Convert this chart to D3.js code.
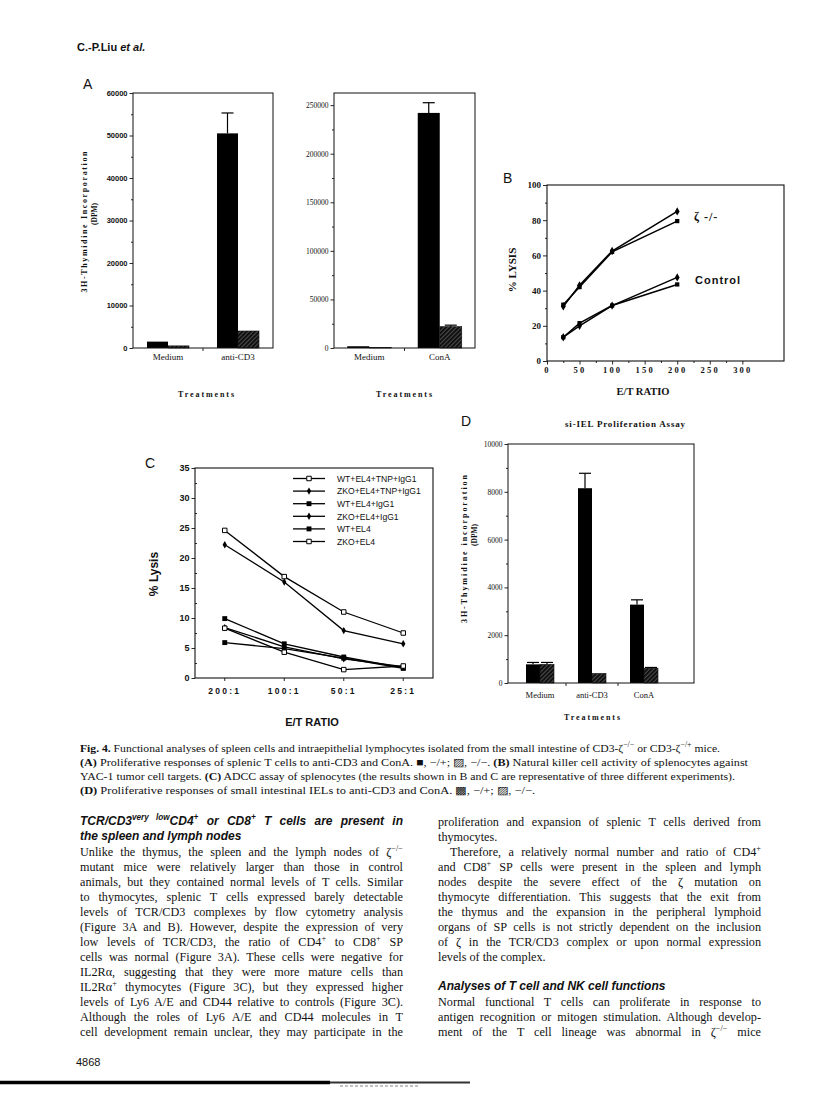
<!DOCTYPE html>
<html><head><meta charset="utf-8">
<script src="https://cdn.jsdelivr.net/npm/d3@7"></script>
<style>
body{margin:0;background:#fff}
svg{display:block}
</style></head><body>
<svg id="page" width="816" height="1102"></svg>
<script>
// ---------------- DATA ----------------
// Panel A (left): proliferation of splenic T cells, anti-CD3
const aCats = ["Medium", "anti-CD3"];
const aHet = [1500, 50500];          // -/+ (black)
const aHetErr = [null, 55300];
const aKO = [500, 4000];             // -/- (hatched)
const aKOErr = [null, null];
const aTicks = [0, 10000, 20000, 30000, 40000, 50000, 60000];
// Panel A (right): ConA
const a2Cats = ["Medium", "ConA"];
const a2Het = [1800, 242000];
const a2HetErr = [null, 252500];
const a2KO = [500, 22000];
const a2KOErr = [null, 23500];
const a2Ticks = [0, 50000, 100000, 150000, 200000, 250000];
// Panel B: NK activity (% lysis vs E/T ratio)
const bRatios = [25, 50, 100, 200];
const bKOdia = [31, 43, 62.5, 85];
const bKOsq = [32, 42, 62, 79.5];
const bCtlDia = [13.5, 20, 31.5, 47.5];
const bCtlSq = [13.5, 21.5, 31.5, 43.5];
const bXTicks = [0, 50, 100, 150, 200, 250, 300];
const bYTicks = [0, 20, 40, 60, 80, 100];
// Panel C: ADCC assay
const cRatios = ["200:1", "100:1", "50:1", "25:1"];
const cNames = ["WT+EL4+TNP+IgG1", "ZKO+EL4+TNP+IgG1", "WT+EL4+IgG1", "ZKO+EL4+IgG1", "WT+EL4", "ZKO+EL4"];
const cMarkers = ["open", "diamond", "square", "diamond", "square", "open"];
const cWtTnp = [24.6, 16.9, 11.0, 7.5];
const cZkoTnp = [22.2, 16.0, 7.9, 5.7];
const cWtIgg = [9.9, 5.7, 3.5, 1.7];
const cZkoIgg = [8.4, 5.2, 3.2, 1.9];
const cWt = [5.9, 4.9, 3.3, 1.6];
const cZko = [8.3, 4.3, 1.4, 2.0];
const cYTicks = [0, 5, 10, 15, 20, 25, 30, 35];
// Panel D: si-IEL proliferation
const dCats = ["Medium", "anti-CD3", "ConA"];
const dHet = [780, 8150, 3280];
const dHetErr = [860, 8775, 3480];
const dKO = [780, 400, 620];
const dKOErr = [860, null, 650];
const dTicks = [0, 2000, 4000, 6000, 8000, 10000];

// ---------------- TEXT ----------------
const captionLines = [
  "**Fig. 4.** Functional analyses of spleen cells and intraepithelial lymphocytes isolated from the small intestine of CD3-ζ^{−/−} or CD3-ζ^{−/+} mice.",
  "**(A)** Proliferative responses of splenic T cells to anti-CD3 and ConA. ■, −/+; ▨, −/−. **(B)** Natural killer cell activity of splenocytes against",
  "YAC-1 tumor cell targets. **(C)** ADCC assay of splenocytes (the results shown in B and C are representative of three different experiments).",
  "**(D)** Proliferative responses of small intestinal IELs to anti-CD3 and ConA. ▩, −/+; ▨, −/−."
];
const captionWidths = [640, 668, 655, 455];
const leftHead = ["TCR/CD3^{very low}CD4^{+} or CD8^{+} T cells are present in", "the spleen and lymph nodes"];
const leftBody = [
  "Unlike the thymus, the spleen and the lymph nodes of ζ^{−/−}",
  "mutant mice were relatively larger than those in control",
  "animals, but they contained normal levels of T cells. Similar",
  "to thymocytes, splenic T cells expressed barely detectable",
  "levels of TCR/CD3 complexes by flow cytometry analysis",
  "(Figure 3A and B). However, despite the expression of very",
  "low levels of TCR/CD3, the ratio of CD4^{+} to CD8^{+} SP",
  "cells was normal (Figure 3A). These cells were negative for",
  "IL2Rα, suggesting that they were more mature cells than",
  "IL2Rα^{+} thymocytes (Figure 3C), but they expressed higher",
  "levels of Ly6 A/E and CD44 relative to controls (Figure 3C).",
  "Although the roles of Ly6 A/E and CD44 molecules in T",
  "cell development remain unclear, they may participate in the"
];
const rightBody1 = [
  "proliferation and expansion of splenic T cells derived from",
  "thymocytes.",
  "Therefore, a relatively normal number and ratio of CD4^{+}",
  "and CD8^{+} SP cells were present in the spleen and lymph",
  "nodes despite the severe effect of the ζ mutation on",
  "thymocyte differentiation. This suggests that the exit from",
  "the thymus and the expansion in the peripheral lymphoid",
  "organs of SP cells is not strictly dependent on the inclusion",
  "of ζ in the TCR/CD3 complex or upon normal expression",
  "levels of the complex."
];
const rightHead = "Analyses of T cell and NK cell functions";
const rightBody2 = [
  "Normal functional T cells can proliferate in response to",
  "antigen recognition or mitogen stimulation. Although develop-",
  "ment of the T cell lineage was abnormal in ζ^{−/−} mice"
];

// ---------------- DRAWING ----------------
const SERIF = "'Liberation Serif','Times New Roman',serif";
const SANS = "'Liberation Sans',Arial,Helvetica,sans-serif";
const svg = d3.select("#page");
svg.append("rect").attr("width", 816).attr("height", 1102).attr("fill", "#fff");

const defs = svg.append("defs");
const pat = defs.append("pattern").attr("id", "hatch").attr("patternUnits", "userSpaceOnUse")
  .attr("width", 3).attr("height", 3).attr("patternTransform", "rotate(45)");
pat.append("rect").attr("width", 3).attr("height", 3).attr("fill", "#4a4a4a");
pat.append("rect").attr("width", 1.8).attr("height", 3).attr("fill", "#0a0a0a");

function richText(parent, x, y, str, o) {
  const t = parent.append("text").attr("x", x).attr("y", y)
    .attr("font-family", o.family).attr("font-size", o.size).attr("fill", "#111");
  if (o.weight) t.attr("font-weight", o.weight);
  if (o.style) t.attr("font-style", o.style);
  const parts = str.split(/(\^\{[^}]*\}|\*\*[^*]+\*\*)/).filter(s => s.length);
  let shifted = false;
  const up = o.size * 0.4;
  parts.forEach(p => {
    if (p.startsWith("^{")) {
      t.append("tspan").attr("dy", shifted ? 0 : -up).attr("font-size", o.size * 0.68).text(p.slice(2, -1));
      shifted = true;
    } else {
      const s = t.append("tspan");
      if (shifted) { s.attr("dy", up); shifted = false; }
      if (p.startsWith("**")) s.attr("font-weight", "bold").text(p.slice(2, -2));
      else s.text(p);
    }
  });
  if (o.justify) {
    const w = t.node().getComputedTextLength();
    const n = (t.text().match(/ /g) || []).length;
    if (n > 0) t.attr("word-spacing", (o.justify - w) / n);
  }
  if (o.fit) t.attr("textLength", o.fit).attr("lengthAdjust", "spacingAndGlyphs");
  return t;
}

function vText(x, y, str, o) {
  const t = svg.append("text").attr("transform", `translate(${x},${y}) rotate(-90)`)
    .attr("text-anchor", "middle").attr("dominant-baseline", "central")
    .attr("font-family", o.family).attr("font-size", o.size).attr("fill", "#111")
    .attr("font-weight", o.weight || "normal").text(str);
  if (o.len) t.attr("textLength", o.len).attr("lengthAdjust", "spacing");
  if (o.ls) t.attr("letter-spacing", o.ls);
  return t;
}

function label(x, y, str, o) {
  const t = svg.append("text").attr("x", x).attr("y", y).attr("text-anchor", o.anchor || "middle")
    .attr("font-family", o.family).attr("font-size", o.size).attr("fill", "#111")
    .attr("font-weight", o.weight || "normal").text(str);
  if (o.ls) t.attr("letter-spacing", o.ls);
  if (o.style) t.attr("font-style", o.style);
  if (o.len) t.attr("textLength", o.len).attr("lengthAdjust", "spacing");
  return t;
}

function styleAxis(g, o) {
  g.select(".domain").remove();
  g.attr("font-family", null).attr("font-size", null);
  g.selectAll("line").attr("stroke", "#111").attr("stroke-width", 0.9);
  g.selectAll("text").attr("font-family", o.family).attr("font-size", o.size)
    .attr("font-weight", o.weight || "normal").attr("fill", "#111");
  if (o.ls) g.selectAll("text").attr("letter-spacing", o.ls);
}

function midpoints(arr) { const m = []; for (let i = 0; i < arr.length - 1; i++) m.push((arr[i] + arr[i + 1]) / 2); return m; }

function barPanel(o) {
  const g = svg.append("g");
  const x = d3.scaleBand().domain(o.cats).range(o.xr);
  const y = d3.scaleLinear().domain([0, o.yMax]).range([o.f.y1, o.f.y0]);
  const bw = o.bw;
  const rows = o.cats.map((c, i) => ({ c, het: o.het[i], ko: o.ko[i], hetE: o.hetErr[i], koE: o.koErr[i] }));
  const cx = d => x(d.c) + x.bandwidth() / 2;
  g.selectAll(".het").data(rows).join("rect")
    .attr("x", d => cx(d) - bw).attr("width", bw)
    .attr("y", d => y(d.het)).attr("height", d => y(0) - y(d.het)).attr("fill", "#000");
  g.selectAll(".ko").data(rows).join("rect")
    .attr("x", d => cx(d)).attr("width", bw)
    .attr("y", d => y(d.ko)).attr("height", d => y(0) - y(d.ko))
    .attr("fill", "url(#hatch)").attr("stroke", "#111").attr("stroke-width", 0.6);
  const errs = [];
  rows.forEach(d => {
    if (d.hetE != null) errs.push({ x: cx(d) - bw / 2, v: d.het, e: d.hetE });
    if (d.koE != null) errs.push({ x: cx(d) + bw / 2, v: d.ko, e: d.koE });
  });
  g.selectAll(".ev").data(errs).join("line").attr("x1", d => d.x).attr("x2", d => d.x)
    .attr("y1", d => y(d.v)).attr("y2", d => y(d.e)).attr("stroke", "#000").attr("stroke-width", 1.2);
  g.selectAll(".ec").data(errs).join("line").attr("x1", d => d.x - o.cap).attr("x2", d => d.x + o.cap)
    .attr("y1", d => y(d.e)).attr("y2", d => y(d.e)).attr("stroke", "#000").attr("stroke-width", 1.2);
  // frame
  g.append("rect").attr("x", o.f.x0).attr("y", o.f.y0).attr("width", o.f.x1 - o.f.x0)
    .attr("height", o.f.y1 - o.f.y0).attr("fill", "none").attr("stroke", "#111").attr("stroke-width", 1);
  // y axis
  const ya = g.append("g").attr("transform", `translate(${o.f.x0},0)`)
    .call(d3.axisLeft(y).tickValues(o.ticks).tickSize(3.5).tickPadding(2).tickFormat(d3.format("d")));
  styleAxis(ya, o.tickFont);
  const ym = g.append("g").attr("transform", `translate(${o.f.x0},0)`)
    .call(d3.axisLeft(y).tickValues(midpoints(o.ticks)).tickSize(2).tickFormat(""));
  styleAxis(ym, o.tickFont);
  // category labels
  const xa = g.append("g").attr("transform", `translate(0,${o.f.y1})`)
    .call(d3.axisBottom(x).tickSize(0).tickPadding(o.catPad));
  styleAxis(xa, o.catFont);
  // tick between groups
  g.selectAll(".xt").data(o.cats.slice(1)).join("line")
    .attr("x1", d => x(d)).attr("x2", d => x(d)).attr("y1", o.f.y1).attr("y2", o.f.y1 + 3)
    .attr("stroke", "#111").attr("stroke-width", 0.9);
  return { x, y };
}

// Header
richText(svg, 77, 51, "C.-P.Liu", { family: SANS, size: 11, weight: "bold" })
  .append("tspan").attr("font-style", "italic").text(" et al.");

// Panel letters
label(83, 89, "A", { family: SANS, size: 14, anchor: "start" });
label(503, 183, "B", { family: SANS, size: 14, anchor: "start" });
label(145, 468, "C", { family: SANS, size: 14, anchor: "start" });
label(461, 426, "D", { family: SANS, size: 14, anchor: "start" });

// ---- Panel A left
barPanel({
  f: { x0: 133, x1: 273, y0: 93, y1: 348 }, xr: [133, 273], cats: aCats,
  het: aHet, ko: aKO, hetErr: aHetErr, koErr: aKOErr, yMax: 60000, ticks: aTicks,
  bw: 21, cap: 6, catPad: 6,
  tickFont: { family: SANS, size: 7.5, weight: "bold" },
  catFont: { family: SERIF, size: 9 }
});
vText(84, 222, "3H-Thymidine    Incorporation", { family: SERIF, size: 8, weight: "bold", len: 141 });
vText(94, 214, "(DPM)", { family: SERIF, size: 7.5, weight: "bold" });
label(207, 397, "Treatments", { family: SERIF, size: 8, weight: "bold", ls: 1.9 });

// ---- Panel A right
barPanel({
  f: { x0: 334, x1: 475, y0: 93, y1: 348 }, xr: [334, 475], cats: a2Cats,
  het: a2Het, ko: a2KO, hetErr: a2HetErr, koErr: a2KOErr, yMax: 262500, ticks: a2Ticks,
  bw: 22, cap: 6, catPad: 6,
  tickFont: { family: SERIF, size: 7.5 },
  catFont: { family: SERIF, size: 9 }
});
label(405, 397, "Treatments", { family: SERIF, size: 8, weight: "bold", ls: 1.9 });

// ---- Panel B
(function () {
  const f = { x0: 547, x1: 784, y0: 185, y1: 361 };
  const x = d3.scaleLinear().domain([0, 364]).range([f.x0, f.x1]);
  const y = d3.scaleLinear().domain([0, 100]).range([f.y1, f.y0]);
  const g = svg.append("g");
  g.append("rect").attr("x", f.x0).attr("y", f.y0).attr("width", f.x1 - f.x0).attr("height", f.y1 - f.y0)
    .attr("fill", "none").attr("stroke", "#111").attr("stroke-width", 1.1);
  const ya = g.append("g").attr("transform", `translate(${f.x0},0)`)
    .call(d3.axisLeft(y).tickValues(bYTicks).tickSize(4).tickPadding(2));
  styleAxis(ya, { family: SERIF, size: 9, weight: "bold" });
  const ym = g.append("g").attr("transform", `translate(${f.x0},0)`)
    .call(d3.axisLeft(y).tickValues(midpoints(bYTicks)).tickSize(2).tickFormat(""));
  styleAxis(ym, {});
  const xa = g.append("g").attr("transform", `translate(0,${f.y1})`)
    .call(d3.axisBottom(x).tickValues(bXTicks).tickSize(3.5).tickPadding(2));
  styleAxis(xa, { family: SERIF, size: 8.5, weight: "bold", ls: 2.2 });
  const xm = g.append("g").attr("transform", `translate(0,${f.y1})`)
    .call(d3.axisBottom(x).tickValues(midpoints(bXTicks)).tickSize(2).tickFormat(""));
  styleAxis(xm, {});
  const series = [
    { v: bKOdia, m: d3.symbolDiamond }, { v: bKOsq, m: d3.symbolSquare },
    { v: bCtlDia, m: d3.symbolDiamond }, { v: bCtlSq, m: d3.symbolSquare }
  ];
  const line = d3.line().x((d, i) => x(bRatios[i])).y(d => y(d));
  series.forEach(s => {
    g.append("path").attr("d", line(s.v)).attr("fill", "none").attr("stroke", "#000").attr("stroke-width", 1.5);
    g.selectAll(null).data(s.v).join("path")
      .attr("transform", (d, i) => `translate(${x(bRatios[i])},${y(d)})`)
      .attr("d", d3.symbol().type(s.m).size(s.m === d3.symbolSquare ? 18 : 20)).attr("fill", "#000");
  });
  vText(512, 270, "% LYSIS", { family: SERIF, size: 11, weight: "bold" });
  label(643, 395, "E/T  RATIO", { family: SERIF, size: 10.5, weight: "bold" });
  label(694, 221, "ζ -/-", { family: SERIF, size: 12, weight: "bold", anchor: "start", ls: 1 });
  label(695, 284, "Control", { family: SANS, size: 11, weight: "bold", anchor: "start", ls: 1 });
})();

// ---- Panel C
(function () {
  const f = { x0: 195, x1: 433, y0: 468, y1: 678 };
  const x = d3.scaleBand().domain(cRatios).range([f.x0, f.x1]);
  const y = d3.scaleLinear().domain([0, 35]).range([f.y1, f.y0]);
  const cx = c => x(c) + x.bandwidth() / 2;
  const g = svg.append("g");
  g.append("rect").attr("x", f.x0).attr("y", f.y0).attr("width", f.x1 - f.x0).attr("height", f.y1 - f.y0)
    .attr("fill", "none").attr("stroke", "#111").attr("stroke-width", 1.1);
  const ya = g.append("g").attr("transform", `translate(${f.x0},0)`)
    .call(d3.axisLeft(y).tickValues(cYTicks).tickSize(3.5).tickPadding(2));
  styleAxis(ya, { family: SANS, size: 9, weight: "bold" });
  const ym = g.append("g").attr("transform", `translate(${f.x0},0)`)
    .call(d3.axisLeft(y).tickValues(midpoints(cYTicks)).tickSize(-2).tickFormat(""));
  styleAxis(ym, {});
  const xa = g.append("g").attr("transform", `translate(0,${f.y1})`)
    .call(d3.axisBottom(x).tickSize(0).tickPadding(10));
  styleAxis(xa, { family: SANS, size: 8.5, weight: "bold", ls: 2.3 });
  g.selectAll(".xt").data(cRatios).join("line")
    .attr("x1", d => cx(d)).attr("x2", d => cx(d)).attr("y1", f.y1).attr("y2", f.y1 + 3)
    .attr("stroke", "#111").attr("stroke-width", 0.9);
  const all = [cWtTnp, cZkoTnp, cWtIgg, cZkoIgg, cWt, cZko];
  const line = d3.line().x((d, i) => cx(cRatios[i])).y(d => y(d));
  const marker = (sel, m) => {
    if (m === "open") sel.attr("d", d3.symbol().type(d3.symbolSquare).size(20)).attr("fill", "#fff").attr("stroke", "#000").attr("stroke-width", 1);
    else if (m === "square") sel.attr("d", d3.symbol().type(d3.symbolSquare).size(24)).attr("fill", "#000");
    else sel.attr("d", d3.symbol().type(d3.symbolDiamond).size(16)).attr("fill", "#000");
  };
  all.forEach(s => {
    g.append("path").attr("d", line(s)).attr("fill", "none").attr("stroke", "#000").attr("stroke-width", 1.3);
  });
  all.forEach((s, k) => {
    g.selectAll(null).data(s).join("path")
      .attr("transform", (d, i) => `translate(${cx(cRatios[i])},${y(d)})`).call(marker, cMarkers[k]);
  });
  // legend
  const ly = d3.scalePoint().domain(cNames).range([478.5, 541.5]);
  cNames.forEach((n, k) => {
    g.append("line").attr("x1", 293).attr("x2", 325).attr("y1", ly(n)).attr("y2", ly(n))
      .attr("stroke", "#000").attr("stroke-width", 1.3);
    g.append("path").attr("transform", `translate(309,${ly(n)})`).call(marker, cMarkers[k]);
    label(337, ly(n) + 3.2, n, { family: SANS, size: 8.6, anchor: "start" });
  });
  vText(154, 574, "%  Lysis", { family: SANS, size: 12, weight: "bold" });
  label(312, 726, "E/T  RATIO", { family: SANS, size: 11, weight: "bold" });
})();

// ---- Panel D
barPanel({
  f: { x0: 508, x1: 694, y0: 444, y1: 683 }, xr: [514, 670], cats: dCats,
  het: dHet, ko: dKO, hetErr: dHetErr, koErr: dKOErr, yMax: 10000, ticks: dTicks,
  bw: 14, cap: 6, catPad: 9,
  tickFont: { family: SERIF, size: 7.5 },
  catFont: { family: SERIF, size: 8.5 }
});
label(625, 427, "si-IEL   Proliferation   Assay", { family: SERIF, size: 9, weight: "bold", len: 120 });
vText(464, 549, "3H-Thymidine    incorporation", { family: SERIF, size: 8, weight: "bold", len: 148 });
vText(474, 535, "(DPM)", { family: SERIF, size: 7.5, weight: "bold" });
label(593, 720, "Treatments", { family: SERIF, size: 8, weight: "bold", ls: 1.9 });

// ---- Caption
const capY = d3.scaleLinear().domain([0, 1]).range([751.5, 765.5]);
captionLines.forEach((s, i) => richText(svg, 80, capY(i), s, { family: SERIF, size: 11, fit: captionWidths[i] }));

// ---- Body text
const lineY = d3.scaleLinear().domain([0, 1]).range([855.5, 870.5]);
const colL = 80, colR = 438, colW = 323;
leftHead.forEach((s, i) => richText(svg, colL, lineY(i - 2) - 0.5, s,
  { family: SANS, size: 12, weight: "bold", style: "italic", justify: i === 0 ? colW : null }));
leftBody.forEach((s, i) => richText(svg, colL, lineY(i), s,
  { family: SERIF, size: 12.2, justify: colW }));
rightBody1.forEach((s, i) => {
  const ind = i === 2 ? 12 : 0;
  const just = (i === 1 || i === rightBody1.length - 1) ? null : colW - ind;
  richText(svg, colR + ind, lineY(i - 2), s, { family: SERIF, size: 12.2, justify: just });
});
richText(svg, colR, lineY(9) - 1, rightHead, { family: SANS, size: 12, weight: "bold", style: "italic" });
rightBody2.forEach((s, i) => richText(svg, colR, lineY(i + 10), s, { family: SERIF, size: 12.2, justify: colW }));

// page number & footer bar
label(76, 1066, "4868", { family: SANS, size: 11, anchor: "start" });
svg.append("line").attr("x1", 0).attr("x2", 330).attr("y1", 1082.5).attr("y2", 1082.5).attr("stroke", "#000").attr("stroke-width", 3.5);
svg.append("line").attr("x1", 330).attr("x2", 470).attr("y1", 1082.5).attr("y2", 1082.5).attr("stroke", "#333").attr("stroke-width", 2);
svg.append("line").attr("x1", 340).attr("x2", 420).attr("y1", 1086).attr("y2", 1086).attr("stroke", "#888").attr("stroke-width", 1.2).attr("stroke-dasharray", "3 2");
</script>
</body></html>
